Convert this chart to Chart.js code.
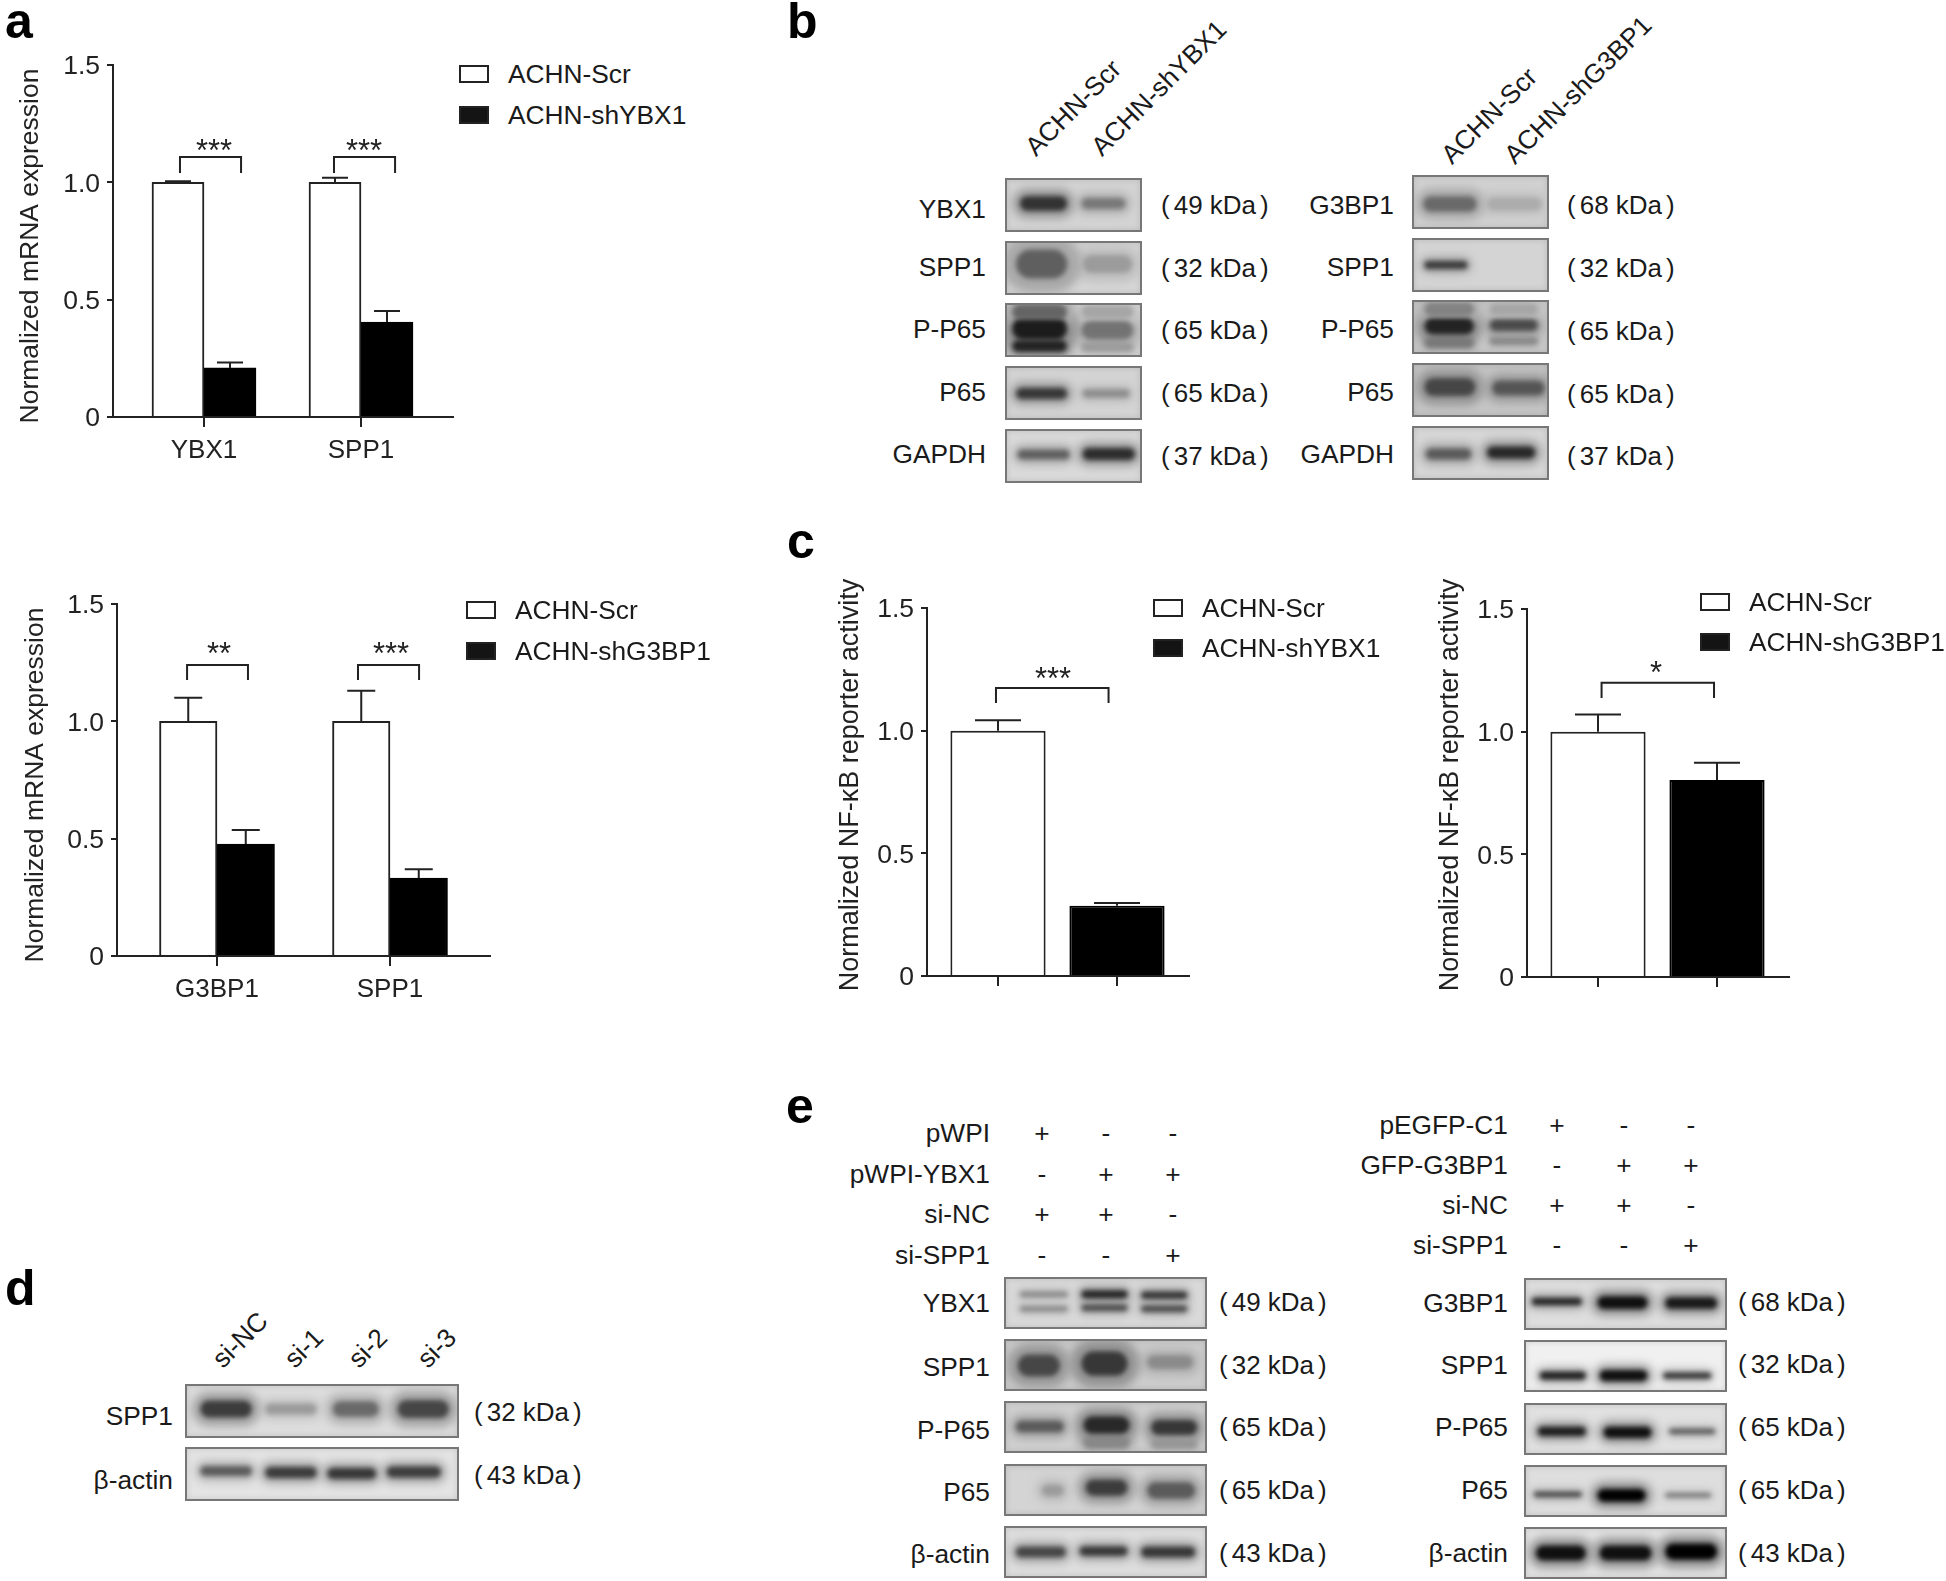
<!DOCTYPE html>
<html>
<head>
<meta charset="utf-8">
<title>Figure</title>
<script src="https://cdn.jsdelivr.net/npm/chart.js@4/dist/chart.umd.min.js"></script>
<style>
	html, body { margin: 0; padding: 0; background: #fff; }
	#page { position: relative; width: 1946px; height: 1581px; overflow: hidden; font-family: "Liberation Sans", Arial, sans-serif; color: #1a1a1a; }
	#page canvas { position: absolute; display: block; }
	.txt { position: absolute; white-space: nowrap; line-height: 1; }
	.swatch { position: absolute; box-sizing: border-box; border: 2px solid #222; }
	.panel { position: absolute; box-sizing: border-box; border: 2px solid #777; overflow: hidden; box-shadow: inset 0 0 6px rgba(0,0,0,.12); }
</style>
</head>
<body>
<div id="page"></div>
<script>
// ---- bar chart values ----
const Y_TICKS = [0, 0.5, 1, 1.5];
const Y_TICK_LABELS = ['0', '0.5', '1.0', '1.5'];
const MRNA_TITLE = 'Normalized mRNA expression';
const NFKB_TITLE = 'Normalized NF-κB reporter activity';

const A1_CATEGORIES = ['YBX1', 'SPP1'];
const A1_SCR = [1.0, 1.0];
const A1_SCR_ERR = [0.005, 0.02];
const A1_SH = [0.209, 0.405];
const A1_SH_ERR = [0.023, 0.047];
const A1_BRACKETS = [[0.847, 1.236, 1.108, 1.04, 1.064, 1.155, '***'], [1.828, 2.217, 1.108, 1.04, 2.019, 1.155, '***']];

const A2_CATEGORIES = ['G3BP1', 'SPP1'];
const A2_SCR = [1.0, 1.0];
const A2_SCR_ERR = [0.10, 0.13];
const A2_SH = [0.477, 0.332];
const A2_SH_ERR = [0.06, 0.038];
const A2_BRACKETS = [[0.827, 1.179, 1.24, 1.176, 1.012, 1.308, '**'], [1.815, 2.168, 1.24, 1.176, 2.006, 1.308, '***']];

const C1_SCR = 1.0;
const C1_SCR_ERR = 0.042;
const C1_SH = 0.286;
const C1_SH_ERR = 0.012;
const C1_BRACKETS = [[0.983, 1.929, 1.174, 1.113, 1.462, 1.231, '***']];

const C2_SCR = 1.0;
const C2_SCR_ERR = 0.07;
const C2_SH = 0.803;
const C2_SH_ERR = 0.07;
const C2_BRACKETS = [[1.03, 1.975, 1.199, 1.137, 1.487, 1.26, '*']];

// ---- blots: each band is [lane start %, lane end %, height %, thickness %, grey level] ----
const B1_NAMES = ['YBX1', 'SPP1', 'P-P65', 'P65', 'GAPDH'];
const B1_KDA = ['49', '32', '65', '65', '37'];
const B1_BANDS = [
	[[10, 45, 47, 24, 50], [56, 89, 47, 18, 120]],
	[[7, 45, 42, 48, 95], [57, 94, 42, 30, 155]],
	[[4, 45, 14, 26, 100], [4, 45, 47, 38, 28], [4, 45, 82, 20, 35], [56, 95, 14, 22, 165], [56, 95, 50, 32, 115], [56, 95, 84, 16, 155]],
	[[7, 45, 51, 18, 55], [57, 92, 51, 13, 140]],
	[[8, 47, 47, 16, 95], [57, 96, 46, 20, 45]],
];

const B2_NAMES = ['G3BP1', 'SPP1', 'P-P65', 'P65', 'GAPDH'];
const B2_KDA = ['68', '32', '65', '65', '37'];
const B2_BANDS = [
	[[7, 47, 54, 26, 105], [55, 96, 54, 22, 172]],
	[[8, 40, 50, 12, 55]],
	[[8, 45, 15, 24, 130], [8, 45, 48, 28, 35], [8, 45, 81, 18, 120], [57, 93, 15, 20, 165], [57, 93, 46, 20, 75], [57, 93, 78, 12, 135]],
	[[8, 46, 44, 30, 70], [59, 98, 46, 24, 85]],
	[[9, 43, 52, 18, 90], [55, 91, 49, 20, 40]],
];

const D_NAMES = ['SPP1', 'β-actin'];
const D_KDA = ['32', '43'];
const D_LANES = ['si-NC', 'si-1', 'si-2', 'si-3'];
const D_BANDS = [
	[[5, 24, 46, 28, 60], [29, 48, 46, 18, 155], [54, 71, 46, 26, 105], [78, 97, 46, 30, 70]],
	[[5, 24, 44, 16, 90], [29, 48, 47, 18, 60], [52, 70, 49, 18, 55], [74, 94, 46, 18, 60]],
];

const E1_NAMES = ['YBX1', 'SPP1', 'P-P65', 'P65', 'β-actin'];
const E1_KDA = ['49', '32', '65', '65', '43'];
const E1_BANDS = [
	[[7, 31, 32, 9, 135], [7, 31, 62, 9, 135], [38, 61, 32, 13, 35], [38, 61, 60, 11, 75], [68, 91, 34, 12, 50], [68, 91, 62, 11, 75]],
	[[6, 27, 51, 38, 70], [38, 61, 47, 42, 55], [71, 94, 44, 24, 138]],
	[[5, 29, 49, 20, 90], [39, 62, 46, 30, 40], [39, 62, 82, 22, 135], [73, 96, 51, 26, 55], [73, 96, 85, 18, 150]],
	[[18, 29, 51, 20, 155], [40, 61, 45, 28, 60], [71, 95, 51, 28, 90]],
	[[5, 30, 50, 18, 70], [37, 61, 48, 16, 55], [68, 95, 50, 18, 55]],
];

const E2_NAMES = ['G3BP1', 'SPP1', 'P-P65', 'P65', 'β-actin'];
const E2_KDA = ['68', '32', '65', '65', '43'];
const E2_BANDS = [
	[[3, 28, 45, 12, 35], [36, 61, 47, 22, 15], [70, 96, 48, 20, 25]],
	[[7, 30, 70, 13, 30], [37, 61, 70, 19, 15], [69, 93, 70, 10, 45]],
	[[6, 30, 55, 16, 30], [39, 63, 57, 19, 15], [72, 95, 55, 8, 80]],
	[[4, 28, 57, 8, 60], [36, 60, 59, 22, 0], [70, 93, 59, 6, 100]],
	[[5, 30, 50, 26, 15], [37, 63, 50, 26, 15], [70, 96, 47, 28, 0]],
];

const E1_TREATMENTS = ['pWPI', 'pWPI-YBX1', 'si-NC', 'si-SPP1'];
const E2_TREATMENTS = ['pEGFP-C1', 'GFP-G3BP1', 'si-NC', 'si-SPP1'];
const E_SIGNS = [['+', '-', '-'], ['-', '+', '+'], ['+', '+', '-'], ['-', '-', '+']];

const INK = '#222';
const page = document.getElementById('page');

function label(text, x, y, opt = {}) {
	const el = document.createElement('div');
	const size = opt.size || 26.3;
	el.className = 'txt';
	el.textContent = text;
	el.style.fontSize = size + 'px';
	if (opt.bold) el.style.fontWeight = 'bold';
	if (opt.rot) {
		el.style.left = x + 'px';
		el.style.top = (y - size) + 'px';
		el.style.transformOrigin = '0 100%';
		el.style.transform = 'rotate(' + opt.rot + 'deg)';
	} else {
		const dx = opt.align === 'right' ? '-100%' : opt.align === 'center' ? '-50%' : '0';
		el.style.left = x + 'px';
		el.style.top = y + 'px';
		el.style.transform = 'translate(' + dx + ',-50%)';
	}
	page.appendChild(el);
	return el;
}

function kdaLabel(kda, x, y) {
	const el = label('', x, y, { size: 26 });
	el.append('(');
	const inner = document.createElement('span');
	inner.style.margin = '0 4px';
	inner.textContent = kda + ' kDa';
	el.append(inner, ')');
}

// error bars, significance brackets and the rotated axis title
const figurePlugin = {
	id: 'figure',
	afterDatasetsDraw( chart, args, opts ) {
		const { ctx, scales: { x, y } } = chart;
		ctx.save();
		ctx.strokeStyle = INK;
		ctx.lineWidth = 2;
		chart.data.datasets.forEach( ( ds, d ) => {
			chart.getDatasetMeta( d ).data.forEach( ( bar, i ) => {
				const top = y.getPixelForValue( ds.data[ i ].y + ds.err[ i ] );
				ctx.beginPath();
				ctx.moveTo( bar.x, y.getPixelForValue( ds.data[ i ].y ) );
				ctx.lineTo( bar.x, top );
				ctx.moveTo( bar.x - opts.capHalf, top );
				ctx.lineTo( bar.x + opts.capHalf, top );
				ctx.stroke();
			} );
		} );
		ctx.fillStyle = INK;
		ctx.textAlign = 'center';
		ctx.font = '31px "Liberation Sans"';
		opts.brackets.forEach( ( [ x0, x1, yTop, yLeg, starX, starY, stars ] ) => {
			ctx.beginPath();
			ctx.moveTo( x.getPixelForValue( x0 ), y.getPixelForValue( yLeg ) );
			ctx.lineTo( x.getPixelForValue( x0 ), y.getPixelForValue( yTop ) );
			ctx.lineTo( x.getPixelForValue( x1 ), y.getPixelForValue( yTop ) );
			ctx.lineTo( x.getPixelForValue( x1 ), y.getPixelForValue( yLeg ) );
			ctx.stroke();
			ctx.fillText( stars, x.getPixelForValue( starX ), y.getPixelForValue( starY ) + 15 );
		} );
		ctx.font = opts.titleSize + 'px "Liberation Sans"';
		ctx.textBaseline = 'middle';
		ctx.translate( opts.titleX - chart.canvas.offsetLeft, opts.titleY - chart.canvas.offsetTop );
		ctx.rotate( -Math.PI / 2 );
		ctx.fillText( opts.title, 0, 0 );
		ctx.restore();
	},
};

function barChart( c ) {
	const canvas = document.createElement( 'canvas' );
	const left = c.plot[ 0 ] - 100;
	const top = c.plot[ 1 ] - 40;
	canvas.width = c.plot[ 2 ] - left + 4;
	canvas.height = c.plot[ 3 ] + 60 - top;
	canvas.style.left = left + 'px';
	canvas.style.top = top + 'px';
	page.appendChild( canvas );
	const unit = c.centers[ 1 ] - c.centers[ 0 ];
	const chart = new Chart( canvas, {
		type: 'bar',
		data: { datasets: c.datasets },
		plugins: [ figurePlugin ],
		options: {
			responsive: false,
			animation: false,
			devicePixelRatio: 1,
			layout: { padding: { top: 40, right: 4, left: 0, bottom: 0 } },
			datasets: { bar: c.bar },
			plugins: {
				legend: { display: false },
				tooltip: { enabled: false },
				figure: {
					capHalf: c.capHalf,
					brackets: c.brackets,
					title: c.title,
					titleX: c.titleAt[ 0 ],
					titleY: c.titleAt[ 1 ],
					titleSize: c.titleSize,
				},
			},
			scales: {
				x: {
					type: 'linear',
					offset: false,
					min: 1 - ( c.centers[ 0 ] - c.plot[ 0 ] ) / unit,
					max: 2 + ( c.plot[ 2 ] - c.centers[ 1 ] ) / unit,
					afterFit: ( s ) => { s.height = 60; },
					afterBuildTicks: ( s ) => { s.ticks = [ { value: 1 }, { value: 2 } ]; },
					grid: { drawOnChartArea: false, offset: false, tickLength: 10, color: INK, lineWidth: 2 },
					border: { color: INK, width: 2 },
					ticks: {
						callback: ( v ) => ( c.categories ? c.categories[ v - 1 ] : '' ),
						color: INK,
						padding: 8,
						autoSkip: false,
						maxRotation: 0,
						font: { family: 'Liberation Sans', size: 26 },
					},
				},
				y: {
					min: 0,
					max: 1.5,
					afterFit: ( s ) => { s.width = 100; },
					afterBuildTicks: ( s ) => { s.ticks = Y_TICKS.map( ( value ) => ( { value } ) ); },
					grid: { drawOnChartArea: false, tickLength: 6, color: INK, lineWidth: 2 },
					border: { color: INK, width: 2 },
					ticks: {
						callback: ( v ) => Y_TICK_LABELS[ Y_TICKS.indexOf( v ) ],
						color: INK,
						padding: 7,
						labelOffset: 2,
						font: { family: 'Liberation Sans', size: 26.5 },
					},
				},
			},
		},
	} );
	// html legend from the chart's own datasets
	chart.data.datasets.forEach( ( ds, i ) => {
		const sw = document.createElement( 'div' );
		sw.className = 'swatch';
		sw.style.cssText = 'left:' + c.legend.box + 'px;top:' + ( c.legend.ys[ i ] - 9 ) + 'px;width:' + c.legend.boxW + 'px;height:18px;background:' + ( i ? '#141414' : '#fff' );
		page.appendChild( sw );
		label( ds.label, c.legend.text, c.legend.ys[ i ] );
	} );
}

function pointsOf( values ) {
	return values.map( ( y, i ) => ( { x: i + 1, y } ) );
}

function barStyle( label, data, err, dark ) {
	return {
		label,
		data,
		err,
		backgroundColor: dark ? '#000' : '#fff',
		borderColor: dark ? '#000' : INK,
		borderWidth: 2,
	};
}

barChart( {
	plot: [ 113, 65, 453, 417 ], centers: [ 204, 361 ], categories: A1_CATEGORIES, capHalf: 13,
	bar: { grouped: true, barThickness: 52 },
	datasets: [
		barStyle( 'ACHN-Scr', pointsOf( A1_SCR ), A1_SCR_ERR, false ),
		barStyle( 'ACHN-shYBX1', pointsOf( A1_SH ), A1_SH_ERR, true ),
	],
	brackets: A1_BRACKETS, title: MRNA_TITLE, titleAt: [ 31, 246 ], titleSize: 26.5,
	legend: { box: 459, boxW: 30, text: 508, ys: [ 74, 115 ] },
} );

barChart( {
	plot: [ 117, 604, 490, 956 ], centers: [ 217, 390 ], categories: A2_CATEGORIES, capHalf: 14,
	bar: { grouped: true, barThickness: 57.5 },
	datasets: [
		barStyle( 'ACHN-Scr', pointsOf( A2_SCR ), A2_SCR_ERR, false ),
		barStyle( 'ACHN-shG3BP1', pointsOf( A2_SH ), A2_SH_ERR, true ),
	],
	brackets: A2_BRACKETS, title: MRNA_TITLE, titleAt: [ 36, 785 ], titleSize: 26.5,
	legend: { box: 466, boxW: 30, text: 515, ys: [ 610, 651 ] },
} );

barChart( {
	plot: [ 927, 608, 1189, 976 ], centers: [ 998, 1117 ], capHalf: 23,
	bar: { grouped: false, categoryPercentage: 1, barPercentage: 0.8 },
	datasets: [
		barStyle( 'ACHN-Scr', [ { x: 1, y: C1_SCR } ], [ C1_SCR_ERR ], false ),
		barStyle( 'ACHN-shYBX1', [ { x: 2, y: C1_SH } ], [ C1_SH_ERR ], true ),
	],
	brackets: C1_BRACKETS, title: NFKB_TITLE, titleAt: [ 851, 785 ], titleSize: 27,
	legend: { box: 1153, boxW: 30, text: 1202, ys: [ 608, 648 ] },
} );

barChart( {
	plot: [ 1527, 609, 1789, 977 ], centers: [ 1598, 1717 ], capHalf: 23,
	bar: { grouped: false, categoryPercentage: 1, barPercentage: 0.8 },
	datasets: [
		barStyle( 'ACHN-Scr', [ { x: 1, y: C2_SCR } ], [ C2_SCR_ERR ], false ),
		barStyle( 'ACHN-shG3BP1', [ { x: 2, y: C2_SH } ], [ C2_SH_ERR ], true ),
	],
	brackets: C2_BRACKETS, title: NFKB_TITLE, titleAt: [ 1451, 785 ], titleSize: 27,
	legend: { box: 1700, boxW: 30, text: 1749, ys: [ 602, 642 ] },
} );

// ---- one Chart.js line chart per blot strip; bands are thick blurred lines ----
const blurPlugin = {
	id: 'blur',
	beforeDatasetDraw( chart, args ) {
		chart.ctx.save();
		chart.ctx.filter = 'blur(' + chart.data.datasets[ args.index ].blur + 'px)';
	},
	afterDatasetDraw( chart ) {
		chart.ctx.restore();
	},
};

function blotStrip( bands, x, y, w, h, bg ) {
	const holder = document.createElement( 'div' );
	holder.className = 'panel';
	holder.style.cssText = 'left:' + x + 'px;top:' + y + 'px;width:' + w + 'px;height:' + h + 'px;background:rgb(' + bg + ',' + bg + ',' + bg + ')';
	page.appendChild( holder );
	const canvas = document.createElement( 'canvas' );
	canvas.width = w - 4;
	canvas.height = h - 4;
	canvas.style.left = '0';
	canvas.style.top = '0';
	holder.appendChild( canvas );
	const cores = [];
	const halos = [];
	bands.forEach( ( [ x0, x1, level, thick, grey ] ) => {
		const px = thick * h / 100 * 1.12;
		const inset = ( px / 2 ) / w * 100;
		const pts = [ { x: x0 + inset, y: level }, { x: x1 - inset, y: level } ];
		const halo = Math.round( grey + ( bg - grey ) * 0.62 );
		cores.push( { data: pts, borderWidth: px, borderColor: 'rgb(' + grey + ',' + grey + ',' + grey + ')', blur: 2.4 } );
		halos.push( { data: pts, borderWidth: px * 2, borderColor: 'rgb(' + halo + ',' + halo + ',' + halo + ')', blur: 5 } );
	} );
	// the first dataset is painted last, so cores go in front of the halos
	const datasets = cores.concat( halos );
	new Chart( canvas, {
		type: 'line',
		data: { datasets },
		plugins: [ blurPlugin ],
		options: {
			responsive: false,
			animation: false,
			devicePixelRatio: 1,
			layout: { padding: 0 },
			elements: { point: { radius: 0 }, line: { borderCapStyle: 'round' } },
			plugins: { legend: { display: false }, tooltip: { enabled: false } },
			scales: {
				x: { type: 'linear', min: 0, max: 100, display: false },
				y: { type: 'linear', min: 0, max: 100, reverse: true, display: false },
			},
		},
	} );
}

function blotColumn( c ) {
	c.names.forEach( ( name, i ) => {
		blotStrip( c.bands[ i ], c.x, c.tops[ i ], c.w, c.h, c.bg[ i ] );
		label( name, c.nameX, c.nameYs[ i ], { align: 'right' } );
		kdaLabel( c.kda[ i ], c.kdaX, c.kdaYs[ i ] );
	} );
}

blotColumn( {
	x: 1005, w: 137, h: 54, tops: [ 178, 241, 303, 366, 429 ], bands: B1_BANDS, names: B1_NAMES, kda: B1_KDA,
	bg: [ 212, 215, 218, 212, 218 ],
	nameX: 986, nameYs: [ 209, 267, 329, 392, 454 ], kdaX: 1161, kdaYs: [ 205, 268, 330, 393, 456 ],
} );
blotColumn( {
	x: 1412, w: 137, h: 54, tops: [ 175, 238, 300, 363, 426 ], bands: B2_BANDS, names: B2_NAMES, kda: B2_KDA,
	bg: [ 210, 212, 205, 198, 215 ],
	nameX: 1394, nameYs: [ 205, 267, 329, 392, 454 ], kdaX: 1567, kdaYs: [ 205, 268, 331, 394, 456 ],
} );
blotColumn( {
	x: 185, w: 274, h: 54, tops: [ 1384, 1447 ], bands: D_BANDS, names: D_NAMES, kda: D_KDA,
	bg: [ 222, 228 ],
	nameX: 173, nameYs: [ 1416, 1480 ], kdaX: 474, kdaYs: [ 1412, 1475 ],
} );
blotColumn( {
	x: 1004, w: 203, h: 52, tops: [ 1277, 1339, 1401, 1464, 1526 ], bands: E1_BANDS, names: E1_NAMES, kda: E1_KDA,
	bg: [ 218, 205, 208, 212, 222 ],
	nameX: 990, nameYs: [ 1303, 1367, 1430, 1492, 1554 ], kdaX: 1219, kdaYs: [ 1302, 1365, 1427, 1490, 1553 ],
} );
blotColumn( {
	x: 1524, w: 203, h: 52, tops: [ 1278, 1340, 1403, 1465, 1527 ], bands: E2_BANDS, names: E2_NAMES, kda: E2_KDA,
	bg: [ 222, 240, 225, 222, 228 ],
	nameX: 1508, nameYs: [ 1303, 1365, 1427, 1490, 1553 ], kdaX: 1738, kdaYs: [ 1302, 1364, 1427, 1490, 1553 ],
} );

// ---- lane headings ----
[ [ 'ACHN-Scr', 1039, 160 ], [ 'ACHN-shYBX1', 1105, 160 ], [ 'ACHN-Scr', 1455, 168 ], [ 'ACHN-shG3BP1', 1518, 168 ] ].forEach( ( [ t, x, y ] ) => {
	label( t, x, y, { rot: -45 } );
} );
D_LANES.forEach( ( t, i ) => {
	label( t, [ 226, 298, 362, 431 ][ i ], 1372, { rot: -45 } );
} );

[ [ E1_TREATMENTS, 990, [ 1133, 1174, 1214, 1255 ], [ 1042, 1106, 1173 ] ],
	[ E2_TREATMENTS, 1508, [ 1125, 1165, 1205, 1245 ], [ 1557, 1624, 1691 ] ] ].forEach( ( [ names, nameX, ys, cols ] ) => {
	names.forEach( ( name, r ) => {
		label( name, nameX, ys[ r ], { align: 'right' } );
		E_SIGNS[ r ].forEach( ( s, k ) => label( s, cols[ k ], ys[ r ], { align: 'center' } ) );
	} );
} );

// ---- panel letters ----
[ [ 'a', 5, 38 ], [ 'b', 787, 38 ], [ 'c', 787, 558 ], [ 'd', 5, 1305 ], [ 'e', 786, 1123 ] ].forEach( ( [ t, x, base ] ) => {
	const el = label( t, x, 0, { size: 50, bold: true } );
	el.style.transform = 'none';
	el.style.top = ( base - 50 * 0.8465 ) + 'px';
	el.style.color = '#000';
} );
</script>
</body>
</html>
